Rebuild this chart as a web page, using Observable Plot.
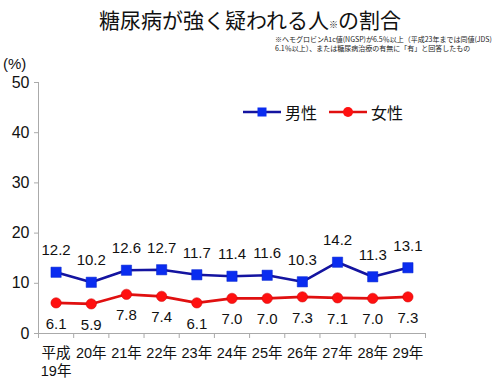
<!DOCTYPE html>
<html><head><meta charset="utf-8">
<script src="https://cdn.jsdelivr.net/npm/d3@7"></script>
<script src="https://cdn.jsdelivr.net/npm/@observablehq/plot@0.6"></script>
<style>
body{margin:0;background:#fff;font-family:"Liberation Sans","Noto Sans CJK JP",sans-serif;}
#wrap{position:relative;width:500px;height:385px;overflow:hidden;}
#title{position:absolute;top:4px;left:0;width:500px;text-align:center;font-size:21px;color:#111;font-family:"Noto Sans CJK JP",sans-serif;line-height:30px;}
#title small{font-size:9px;}
#note{position:absolute;top:35px;left:275px;font-size:7px;line-height:8.5px;color:#222;font-family:"Noto Sans CJK JP",sans-serif;white-space:nowrap;}
#ylab{position:absolute;top:55px;left:3px;font-size:15px;color:#111;}
#legend{position:absolute;top:100px;left:243px;display:flex;align-items:center;font-size:16px;color:#111;font-family:"Noto Sans CJK JP",sans-serif;}
#legend span{margin-right:12px;}
#chart{position:absolute;top:50px;left:0;}
</style></head>
<body><div id="wrap">
<div id="title">糖尿病が強く疑われる人<small>※</small>の割合</div>
<div id="note">※ヘモグロビンA1c値(NGSP)が6.5％以上（平成23年までは同値(JDS)<br>6.1％以上）、または糖尿病治療の有無に「有」と回答したもの</div>
<div id="ylab">(%)</div>
<div id="legend"></div>
<div id="chart"></div>
</div>
<script>
const categories = ["平成\n19年","20年","21年","22年","23年","24年","25年","26年","27年","28年","29年"];
const male = [12.2,10.2,12.6,12.7,11.7,11.4,11.6,10.3,14.2,11.3,13.1];
const female = [6.1,5.9,7.8,7.4,6.1,7.0,7.0,7.3,7.1,7.0,7.3];
const yTicks = [0,10,20,30,40,50];
const seriesNames = ["男性","女性"];

const maleData = male.map((v,i)=>({i, v}));
const femaleData = female.map((v,i)=>({i, v}));
const maleLine = "#1414a0", maleFill = "#0a2cf0";
const femLine = "#e01010", femFill = "#ff1010";

const chart = Plot.plot({
  width: 500, height: 335,
  marginLeft: 38, marginRight: 75, marginTop: 32, marginBottom: 52,
  style: {fontFamily: '"Liberation Sans","Noto Sans CJK JP",sans-serif', color: "#111", background: "transparent"},
  x: {type: "linear", domain: [-0.5, categories.length - 0.5]},
  y: {domain: [0, 50]},
  marks: [
    Plot.axisY({ticks: yTicks, tickSize: 4, tickPadding: 5, fontSize: 16, label: null, stroke: "#aaa"}),
    Plot.axisX({ticks: d3.range(-0.5, categories.length, 1), tickSize: 5, tickFormat: () => "", label: null, stroke: "#aaa"}),
    Plot.axisX({ticks: d3.range(categories.length), tickSize: 0, tickPadding: 12, tickFormat: i => categories[i], fontSize: 14.5, label: null, lineHeight: 1.25}),
    Plot.ruleX([-0.5], {y1: 0, y2: 50, stroke: "#aaa"}),
    Plot.ruleY([0], {stroke: "#aaa"}),
    Plot.line(maleData, {x: "i", y: "v", stroke: maleLine, strokeWidth: 2.6}),
    Plot.dot(maleData, {x: "i", y: "v", symbol: "square", r: 5.8, fill: maleFill, stroke: "#0022cc", strokeWidth: 0.5}),
    Plot.line(femaleData, {x: "i", y: "v", stroke: femLine, strokeWidth: 2.6}),
    Plot.dot(femaleData, {x: "i", y: "v", r: 5.2, fill: femFill, stroke: "#d00000", strokeWidth: 0.5}),
    Plot.text(maleData, {x: "i", y: "v", text: d => d.v.toFixed(1), dy: -22, fontSize: 15, fill: "#111"}),
    Plot.text(femaleData, {x: "i", y: "v", text: d => d.v.toFixed(1), dy: 21, fontSize: 15, fill: "#111"})
  ]
});
document.getElementById("chart").appendChild(chart);

function swatch(line, fill, sym) {
  const s = d3.create("svg").attr("width", 38).attr("height", 16).style("margin-right", "4px");
  s.append("line").attr("x1", 0).attr("x2", 38).attr("y1", 8).attr("y2", 8).attr("stroke", line).attr("stroke-width", 2.6);
  if (sym === "square") s.append("rect").attr("x", 14.5).attr("y", 3.5).attr("width", 9).attr("height", 9).attr("fill", fill);
  else s.append("circle").attr("cx", 19).attr("cy", 8).attr("r", 5).attr("fill", fill);
  return s.node();
}
const leg = document.getElementById("legend");
leg.appendChild(swatch(maleLine, maleFill, "square"));
const l1 = document.createElement("span"); l1.textContent = seriesNames[0]; leg.appendChild(l1);
leg.appendChild(swatch(femLine, femFill, "circle"));
const l2 = document.createElement("span"); l2.textContent = seriesNames[1]; leg.appendChild(l2);
</script>
</body></html>
